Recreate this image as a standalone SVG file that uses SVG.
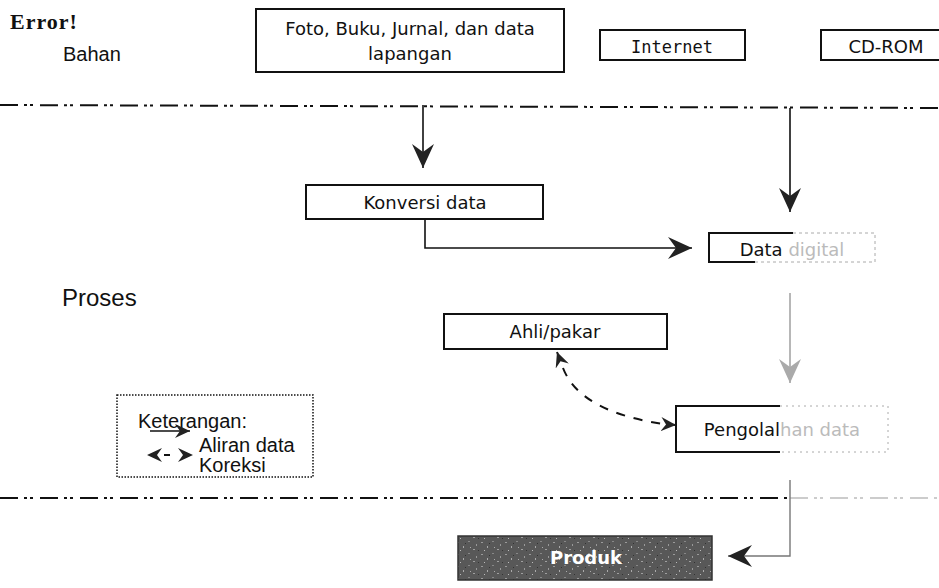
<svg xmlns="http://www.w3.org/2000/svg" width="939" height="588" viewBox="0 0 939 588">
<style>
  .box { fill: #fff; stroke: #111; stroke-width: 2; }
  .t { font-family: "DejaVu Sans", Verdana, sans-serif; font-size: 18px; fill: #111; }
  .a { font-family: "Liberation Sans", Arial, sans-serif; fill: #111; }
  .sep { fill: none; stroke: #111; stroke-width: 2; stroke-dasharray: 18 6 3 3 3 7; }
  .flow { fill: none; stroke: #111; stroke-width: 1.6; }
  .flowg { fill: none; stroke: #999; stroke-width: 1.4; }
  .kor { fill: none; stroke: #111; stroke-width: 2; stroke-dasharray: 9 9; }
  .faint { fill: #bbb; }
</style>
<defs>
  <marker id="ah" markerUnits="userSpaceOnUse" markerWidth="26" markerHeight="24" refX="24" refY="12" orient="auto">
    <path d="M0,1 L24,12 L0,23 L8,12 Z" fill="#222"/>
  </marker>
  <marker id="ahg" markerUnits="userSpaceOnUse" markerWidth="26" markerHeight="24" refX="24" refY="12" orient="auto">
    <path d="M0,1 L24,12 L0,23 L8,12 Z" fill="#aaa"/>
  </marker>
  <marker id="ahs" markerUnits="userSpaceOnUse" markerWidth="16" markerHeight="14" refX="15" refY="7" orient="auto-start-reverse">
    <path d="M0,0 L15,7 L0,14 L5,7 Z" fill="#222"/>
  </marker>
  <pattern id="noise" patternUnits="userSpaceOnUse" width="24" height="12">
    <rect width="24" height="12" fill="#585858"/>
    <rect x="1" y="2" width="2" height="1" fill="#9a9a9a"/>
    <rect x="7" y="6" width="1" height="2" fill="#aaa"/>
    <rect x="12" y="1" width="2" height="1" fill="#888"/>
    <rect x="17" y="9" width="2" height="1" fill="#9f9f9f"/>
    <rect x="4" y="10" width="1" height="1" fill="#bbb"/>
    <rect x="20" y="4" width="1" height="2" fill="#999"/>
    <rect x="14" y="7" width="1" height="1" fill="#aaa"/>
    <rect x="9" y="3" width="1" height="1" fill="#333"/>
    <rect x="22" y="10" width="1" height="1" fill="#333"/>
  </pattern>
</defs>

<!-- section labels -->
<text x="10" y="29" font-family="'Liberation Serif', 'Times New Roman', serif" font-weight="bold" font-size="22" letter-spacing="1" fill="#111">Error!</text>
<text class="a" x="63" y="61" font-size="20">Bahan</text>
<text class="a" x="62" y="306" font-size="24">Proses</text>

<!-- separators -->
<g id="separators">
  <line class="sep" x1="0" y1="105" x2="939" y2="108"/>
  <line class="sep" x1="0" y1="498" x2="790" y2="498"/>
  <line class="sep" x1="790" y1="498" x2="939" y2="498" style="stroke:#999;stroke-width:1"/>
</g>

<g id="node-foto">
  <rect class="box" x="256" y="9" width="308" height="63"/>
  <text class="t" x="410" y="35" text-anchor="middle">Foto, Buku, Jurnal, dan data</text>
  <text class="t" x="410" y="60" text-anchor="middle">lapangan</text>
</g>
<g id="node-internet">
  <rect class="box" x="600" y="30" width="145" height="30"/>
  <text x="672" y="53" text-anchor="middle" font-family="'DejaVu Sans Mono', monospace" font-size="17" fill="#111">Internet</text>
</g>
<g id="node-cdrom">
  <rect class="box" x="821" y="30" width="130" height="30"/>
  <text class="t" x="886" y="53" text-anchor="middle">CD-ROM</text>
</g>
<g id="node-konversi">
  <rect class="box" x="306" y="185" width="237" height="34"/>
  <text class="t" x="425" y="209" text-anchor="middle">Konversi data</text>
</g>
<g id="node-digital">
  <rect x="709" y="233" width="166" height="29" fill="#fff"/>
  <path d="M793 233 H709 V262 H755" fill="none" stroke="#111" stroke-width="2"/>
  <path d="M793 233 H875 V262 H755" fill="none" stroke="#aaa" stroke-width="1" stroke-dasharray="3 3"/>
  <text class="t" x="792" y="256" text-anchor="middle">Data <tspan class="faint">digital</tspan></text>
</g>
<g id="node-ahli">
  <rect class="box" x="444" y="314" width="223" height="35"/>
  <text class="t" x="555" y="338" text-anchor="middle">Ahli/pakar</text>
</g>
<g id="node-pengolahan">
  <rect x="676" y="406" width="212" height="46" fill="#fff"/>
  <path d="M780 406 H676 V452 H780" fill="none" stroke="#111" stroke-width="2"/>
  <path d="M780 406 H888 V452 H780" fill="none" stroke="#aaa" stroke-width="1" stroke-dasharray="2 4"/>
  <text class="t" x="782" y="436" text-anchor="middle">Pengola<tspan>l</tspan><tspan class="faint">han data</tspan></text>
</g>
<g id="node-produk">
  <rect x="458" y="536" width="254" height="44" fill="url(#noise)" stroke="#333" stroke-width="1.5"/>
  <text x="586" y="564" text-anchor="middle" font-family="'DejaVu Sans', sans-serif" font-weight="bold" font-size="18" fill="#fff">Produk</text>
</g>
<g id="node-keterangan">
  <rect x="117" y="395" width="196" height="82" fill="#fff" stroke="#111" stroke-width="1.5" stroke-dasharray="1.5 1.5"/>
  <text class="a" x="138" y="428" font-size="20">Keterangan:</text>
  <text class="a" x="199" y="452" font-size="20">Aliran data</text>
  <text class="a" x="199" y="472" font-size="20">Koreksi</text>
  <line class="flow" x1="150" y1="431" x2="190" y2="431" marker-end="url(#ahs)"/>
  <line x1="147" y1="455" x2="193" y2="455" stroke="#111" stroke-width="2" stroke-dasharray="0 17 6 30" marker-start="url(#ahs)" marker-end="url(#ahs)"/>
</g>

<g id="connectors">
  <path class="flow" d="M423 105 V168" marker-end="url(#ah)"/>
  <path class="flow" d="M790 108 V212" marker-end="url(#ah)"/>
  <path class="flow" d="M425 219 V248 H692" marker-end="url(#ah)"/>
  <path class="flowg" d="M790 293 V383" marker-end="url(#ahg)"/>
  <path class="flowg" d="M790 480 V556 H728" style="stroke:#777" marker-end="url(#ah)"/>
  <path class="kor" d="M563 368 Q 580 412 664 424"/>
  <path d="M560 360 L557 352" fill="none" stroke="#111" stroke-width="2" marker-end="url(#ahs)"/>
  <path d="M668 424.5 L676 425" fill="none" stroke="#111" stroke-width="2" marker-end="url(#ahs)"/>
</g>
</svg>
